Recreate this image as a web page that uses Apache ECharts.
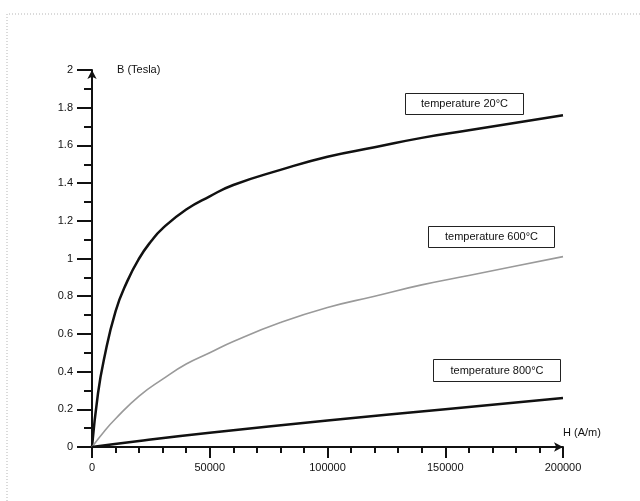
<!DOCTYPE html>
<html>
<head>
<meta charset="utf-8">
<script src="https://cdn.jsdelivr.net/npm/echarts@6/dist/echarts.min.js"></script>
<style>
	html, body { margin: 0; padding: 0; background: #fff; }
	#chart { width: 640px; height: 501px; }
</style>
</head>
<body>
<div id="chart"></div>
<script>
	// H (A/m) sample positions
	var h20 = [0, 2500, 5000, 10000, 15000, 20000, 25000, 30000, 40000, 50000, 60000, 80000, 100000, 120000, 140000, 160000, 180000, 200000]
	var b20 = [0, 0.28, 0.46, 0.72, 0.88, 1.0, 1.09, 1.16, 1.26, 1.33, 1.39, 1.47, 1.54, 1.59, 1.64, 1.68, 1.72, 1.76]

	var h600 = [0, 5000, 10000, 20000, 30000, 40000, 50000, 60000, 80000, 100000, 120000, 140000, 160000, 180000, 200000]
	var b600 = [0, 0.08, 0.15, 0.27, 0.36, 0.44, 0.5, 0.56, 0.66, 0.74, 0.8, 0.86, 0.91, 0.96, 1.01]

	var h800 = [0, 20000, 50000, 100000, 150000, 200000]
	var b800 = [0, 0.032, 0.075, 0.14, 0.2, 0.26]

	// callout boxes: text, top-left corner in data coords, size
	var boxTexts = ['temperature 20°C', 'temperature 600°C', 'temperature 800°C']
	var boxAt = [[133000, 1.878], [142500, 1.17], [145000, 0.467]]
	var boxSize = [[118, 21], [126, 21], [127, 22]]

	var font = 'Liberation Sans, Arial, Helvetica, sans-serif'

	function pairs(xs, ys) {
		var out = []
		for (var i = 0; i < xs.length; i++) {
			out.push([xs[i], ys[i]])
		}
		return out
	}

	var chart = echarts.init(document.getElementById('chart'))

	var option = {
		animation: false,
		backgroundColor: '#fff',
		grid: { left: 92, right: 77, top: 70, bottom: 54 },
		xAxis: {
			type: 'value',
			min: 0,
			max: 200000,
			interval: 50000,
			name: 'H (A/m)',
			nameLocation: 'end',
			nameGap: 0,
			nameTextStyle: {
				color: '#111', fontSize: 11, fontFamily: font,
				align: 'left', verticalAlign: 'bottom', padding: [0, 0, 9, 0]
			},
			axisLine: { lineStyle: { color: '#111', width: 2 }, symbol: ['none', 'arrow'], symbolSize: [7, 9] },
			axisTick: { length: 11, lineStyle: { color: '#111', width: 2 } },
			minorTick: { show: true, splitNumber: 5, length: 6, lineStyle: { color: '#111', width: 2 } },
			axisLabel: {
				margin: 15, color: '#111', fontSize: 11, fontFamily: font,
				formatter: function (v) { return String(v) }
			},
			splitLine: { show: false }
		},
		yAxis: {
			type: 'value',
			min: 0,
			max: 2,
			interval: 0.2,
			name: 'B (Tesla)',
			nameLocation: 'end',
			nameGap: 0,
			nameTextStyle: {
				color: '#111', fontSize: 11, fontFamily: font,
				align: 'left', verticalAlign: 'middle', padding: [0, 0, 0, 25]
			},
			axisLine: { show: true, lineStyle: { color: '#111', width: 2 }, symbol: ['none', 'arrow'], symbolSize: [7, 9] },
			axisTick: { show: true, length: 15, lineStyle: { color: '#111', width: 2 } },
			minorTick: { show: true, splitNumber: 2, length: 8, lineStyle: { color: '#111', width: 2 } },
			axisLabel: { margin: 19, color: '#111', fontSize: 11, fontFamily: font },
			splitLine: { show: false }
		},
		series: [
			{
				name: '20',
				type: 'line',
				smooth: true,
				showSymbol: false,
				data: pairs(h20, b20),
				lineStyle: { color: '#111', width: 2.5 }
			},
			{
				name: '600',
				type: 'line',
				smooth: true,
				showSymbol: false,
				data: pairs(h600, b600),
				lineStyle: { color: '#9a9a9a', width: 1.6 }
			},
			{
				name: '800',
				type: 'line',
				smooth: true,
				showSymbol: false,
				data: pairs(h800, b800),
				lineStyle: { color: '#111', width: 2.5 }
			}
		]
	}

	chart.setOption(option)

	// page frame + callout boxes, placed through the chart's own scales
	var graphics = [{
		type: 'polyline',
		shape: { points: [[7, 501], [7, 14], [640, 14]] },
		style: { stroke: '#b5b5b5', lineWidth: 1, lineDash: [1, 2], fill: null },
		silent: true
	}]
	for (var i = 0; i < boxTexts.length; i++) {
		var p = chart.convertToPixel({ gridIndex: 0 }, boxAt[i])
		var x = Math.round(p[0]) + 0.5
		var y = Math.round(p[1]) + 0.5
		graphics.push({
			type: 'rect',
			shape: { x: x, y: y, width: boxSize[i][0], height: boxSize[i][1] },
			style: { fill: '#fff', stroke: '#222', lineWidth: 1 },
			z: 10,
			silent: true
		})
		graphics.push({
			type: 'text',
			x: x + boxSize[i][0] / 2,
			y: y + boxSize[i][1] / 2,
			style: {
				text: boxTexts[i], fill: '#111', fontSize: 11, fontFamily: font,
				align: 'center', verticalAlign: 'middle'
			},
			z: 11,
			silent: true
		})
	}
	chart.setOption({ graphic: graphics })
</script>
</body>
</html>
